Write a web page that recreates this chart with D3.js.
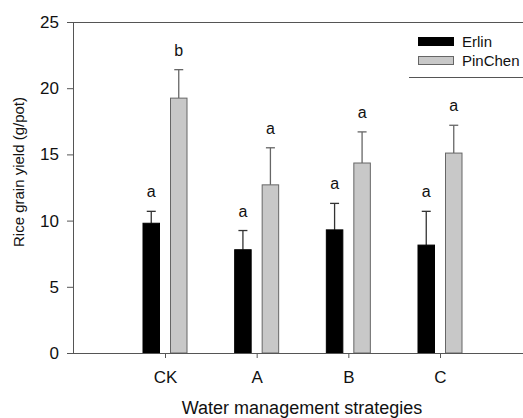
<!DOCTYPE html>
<html>
  <head>
    <meta charset="utf-8">
    <script src="https://d3js.org/d3.v7.min.js"></script>
    <style>
      body { margin: 0; background: #fff; }
      svg { font-family: Arial, "Liberation Sans", sans-serif; display: block; }
    </style>
  </head>
  <body>
    <div id="chart"></div>
    <script>
      // categories and series
      const categories = ["CK", "A", "B", "C"];
      const seriesNames = ["Erlin", "PinChen"];
      const erlin = [9.8, 7.8, 9.3, 8.15];
      const erlinErr = [0.9, 1.45, 2.0, 2.55];
      const pinchen = [19.25, 12.7, 14.35, 15.1];
      const pinchenErr = [2.15, 2.8, 2.35, 2.1];
      const erlinLetters = ["a", "a", "a", "a"];
      const pinchenLetters = ["b", "a", "a", "a"];
      const yTicks = [0, 5, 10, 15, 20, 25];

      const colors = { "Erlin": "#000", "PinChen": "#c8c8c8" };
      const strokes = { "Erlin": "#000", "PinChen": "#666" };

      const width = 523, height = 418;
      const plotLeft = 73, plotTop = 22, plotBottom = 353;

      const svg = d3.select("#chart").append("svg")
        .attr("width", width)
        .attr("height", height);

      const y = d3.scaleLinear().domain([0, 25]).range([plotBottom, plotTop]);
      const x = d3.scalePoint().domain(categories).range([165, 440]);
      const xInner = d3.scaleBand().domain(seriesNames).range([-22, 22])
        .paddingInner(0.4).paddingOuter(0);

      // flat table for drawing
      const rows = [];
      categories.forEach((c, i) => {
        rows.push({ cat: c, s: "Erlin", v: erlin[i], e: erlinErr[i], l: erlinLetters[i] });
        rows.push({ cat: c, s: "PinChen", v: pinchen[i], e: pinchenErr[i], l: pinchenLetters[i] });
      });

      // frame line at the top (runs off the right edge)
      svg.append("line").attr("x1", plotLeft).attr("x2", width).attr("y1", plotTop + 0.5).attr("y2", plotTop + 0.5)
        .attr("stroke", "#555");

      // error bars + significance letters
      const eb = svg.append("g");
      rows.forEach(d => {
        const cx = x(d.cat) + xInner(d.s) + xInner.bandwidth() / 2;
        const col = d.s === "Erlin" ? "#333" : "#666";
        eb.append("line").attr("x1", cx).attr("x2", cx)
          .attr("y1", y(d.v)).attr("y2", y(d.v + d.e))
          .attr("stroke", col).attr("stroke-width", 1.3);
        eb.append("line").attr("x1", cx - 4.5).attr("x2", cx + 4.5)
          .attr("y1", y(d.v + d.e)).attr("y2", y(d.v + d.e))
          .attr("stroke", col).attr("stroke-width", 1.3);
        eb.append("text").attr("x", cx).attr("y", y(d.v + d.e) - 14)
          .attr("text-anchor", "middle").attr("font-size", 16).attr("fill", "#111")
          .text(d.l);
      });

      // bars
      svg.append("g").selectAll("rect")
        .data(rows)
        .enter().append("rect")
        .attr("x", d => x(d.cat) + xInner(d.s))
        .attr("y", d => y(d.v))
        .attr("width", xInner.bandwidth())
        .attr("height", d => y(0) - y(d.v))
        .attr("fill", d => colors[d.s])
        .attr("stroke", d => strokes[d.s])
        .attr("stroke-width", 1);

      // y axis
      const yAxis = d3.axisLeft(y).tickValues(yTicks).tickSize(6).tickSizeOuter(0).tickPadding(8);
      const gy = svg.append("g").attr("transform", `translate(${plotLeft},0)`).call(yAxis);
      gy.select(".domain").attr("stroke", "#555");
      gy.selectAll(".tick line").attr("stroke", "#555");
      gy.selectAll(".tick text").attr("font-size", 17).attr("fill", "#111")
        .attr("font-family", "Arial, 'Liberation Sans', sans-serif");

      // x axis
      const xAxis = d3.axisBottom(x).tickSize(5).tickSizeOuter(0).tickPadding(13);
      const gx = svg.append("g").attr("transform", `translate(0,${plotBottom})`).call(xAxis);
      gx.select(".domain").remove();
      gx.append("line").attr("x1", plotLeft - 6).attr("x2", width).attr("y1", 0.5).attr("y2", 0.5)
        .attr("stroke", "#555");
      gx.selectAll(".tick line").attr("stroke", "#555");
      gx.selectAll(".tick text").attr("font-size", 17).attr("fill", "#111")
        .attr("font-family", "Arial, 'Liberation Sans', sans-serif");

      // axis titles
      svg.append("text")
        .attr("transform", "translate(24,172) rotate(-90)")
        .attr("text-anchor", "middle").attr("font-size", 15).attr("fill", "#111")
        .text("Rice grain yield (g/pot)");
      svg.append("text")
        .attr("x", 302).attr("y", 414)
        .attr("text-anchor", "middle").attr("font-size", 18).attr("fill", "#111")
        .text("Water management strategies");

      // legend
      const lg = svg.append("g");
      seriesNames.forEach((s, i) => {
        lg.append("rect").attr("x", 418.5).attr("y", 37.5 + i * 19)
          .attr("width", 35).attr("height", 8)
          .attr("fill", colors[s]).attr("stroke", strokes[s]);
        lg.append("text").attr("x", 462).attr("y", 46.5 + i * 19)
          .attr("font-size", 15).attr("fill", "#111").text(s);
      });
      lg.append("line").attr("x1", 409).attr("x2", width).attr("y1", 77.5).attr("y2", 77.5)
        .attr("stroke", "#555");
    </script>
  </body>
</html>
